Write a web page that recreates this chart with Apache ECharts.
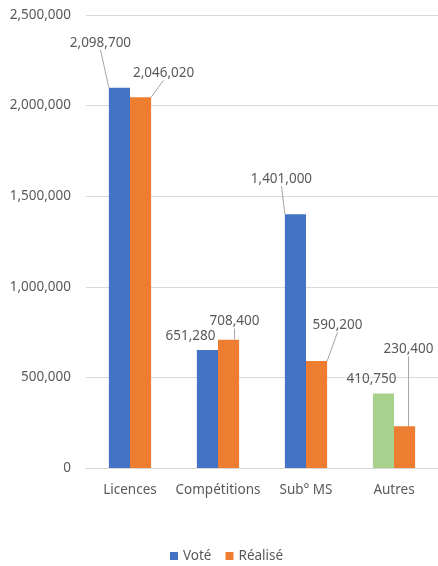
<!DOCTYPE html>
<html><head><meta charset="utf-8">
<script src="https://cdn.jsdelivr.net/npm/echarts@6/dist/echarts.min.js"></script>
<style>html,body{margin:0;padding:0;background:#fff}#c{width:438px;height:566px}</style>
</head><body><div id="c"></div>
<script>
const categories = ['Licences', 'Compétitions', 'Sub° MS', 'Autres'];
const voteValues = [2098700, 651280, 1401000, 410750];
const realiseValues = [2046020, 708400, 590200, 230400];
const yTicks = [0, 500000, 1000000, 1500000, 2000000, 2500000];

const labelOffsets = [
  [[-19, -33], [-17, -2], [-14, -23], [-12, -2]],
  [[23, -12], [6, -6], [21, -24], [4, -65]]
];
const noLine = [[false, true, false, true], [false, false, false, false]];
const fmt = v => v.toLocaleString('en-US');
const font = 'Noto Sans';
const fs = 13.5;
const chart = echarts.init(document.getElementById('c'));
const labelCommon = {
  show: true, position: 'top', distance: 5, color: '#595959', fontFamily: font, fontSize: fs,
  formatter: p => fmt(p.value)
};
const layoutFn = p => { const o = labelOffsets[p.seriesIndex][p.dataIndex]; return {dx: o[0], dy: o[1]}; };
const mkData = (vals, si) => vals.map((v, i) => {
  const d = {value: v};
  if (si === 0 && i === 3) d.itemStyle = {color: '#A9D18E'};
  if (noLine[si][i]) d.labelLine = {show: false};
  return d;
});
chart.setOption({
  animation: false,
  textStyle: {fontFamily: font},
  grid: {left: 86, right: 0, top: 15, bottom: 98},
  legend: {
    bottom: -2, left: 165, itemWidth: 8, itemHeight: 8, itemGap: 14,
    icon: 'rect', textStyle: {color: '#595959', fontSize: fs, fontFamily: font},
    data: [{name: 'Voté', itemStyle: {color: '#4472C4'}}, {name: 'Réalisé', itemStyle: {color: '#ED7D31'}}]
  },
  xAxis: {
    type: 'category', data: categories,
    axisLine: {lineStyle: {color: '#d9d9d9'}}, axisTick: {show: false},
    axisLabel: {color: '#595959', fontSize: fs, fontFamily: font, margin: 15, interval: 0}
  },
  yAxis: {
    type: 'value', min: yTicks[0], max: yTicks[yTicks.length - 1], interval: 500000,
    axisLine: {show: false}, axisTick: {show: false},
    splitLine: {lineStyle: {color: '#d9d9d9'}},
    axisLabel: {color: '#595959', fontSize: fs, fontFamily: font, margin: 15, formatter: v => fmt(v)}
  },
  series: [
    {
      name: 'Voté', type: 'bar', barGap: '0%', barCategoryGap: '52%',
      itemStyle: {color: '#4472C4'},
      data: mkData(voteValues, 0),
      label: labelCommon,
      labelLine: {show: true, lineStyle: {color: '#a6a6a6', width: 1}},
      labelLayout: layoutFn
    },
    {
      name: 'Réalisé', type: 'bar',
      itemStyle: {color: '#ED7D31'},
      data: mkData(realiseValues, 1),
      label: labelCommon,
      labelLine: {show: true, lineStyle: {color: '#a6a6a6', width: 1}},
      labelLayout: layoutFn
    }
  ]
});
</script></body></html>
